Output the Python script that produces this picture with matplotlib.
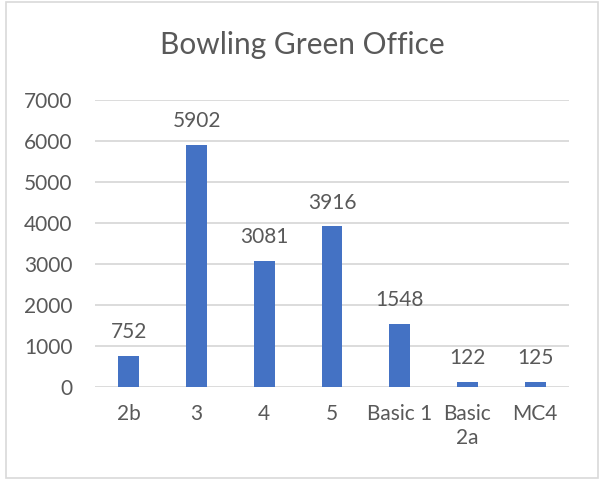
import matplotlib.pyplot as plt
from matplotlib.patches import Rectangle

categories = ["2b", "3", "4", "5", "Basic 1", "Basic\n2a", "MC4"]
counts = [752, 5902, 3081, 3916, 1548, 122, 125]
yticks = [0, 1000, 2000, 3000, 4000, 5000, 6000, 7000]

textColor = '#595959'
barColor = '#4472C4'
gridColor = '#D9D9D9'
fontSize = 15

plt.rcParams['font.family'] = ['Lato', 'DejaVu Sans']

fig = plt.figure(figsize=(6.04, 4.79), dpi=100)
ax = fig.add_axes([95 / 604, 1 - 387 / 479, (569 - 95) / 604, (387 - 100) / 479])

x = list(range(len(categories)))
ax.bar(x, counts, width=0.31, color=barColor, zorder=3)
for a, b in zip(x, counts):
    ax.annotate(str(b), (a, b), xytext=(0, 10), textcoords='offset points',
                ha='center', va='bottom', fontsize=fontSize, color=textColor)

ax.set_xlim(-0.5, len(categories) - 0.5)
ax.set_ylim(0, 7000)
ax.set_yticks(yticks)
ax.set_xticks(x)
ax.set_xticklabels(categories, fontsize=fontSize, color=textColor, linespacing=1.25, va='top')
ax.tick_params(axis='y', length=0, pad=16, labelsize=fontSize, labelcolor=textColor)
ax.tick_params(axis='x', length=0, pad=12)
ax.yaxis.grid(True, color=gridColor, linewidth=1.3, zorder=0)
for s in ax.spines.values():
    s.set_visible(False)

fig.text(0.5, 1 - 45 / 479, "Bowling Green Office", ha='center', va='center',
         fontsize=21.5, color=textColor)

# light chart border
fig.patches.append(Rectangle((6 / 604, 1 / 479), 592 / 604, 476 / 479,
                             transform=fig.transFigure, fill=False,
                             edgecolor=gridColor, linewidth=1.2))

fig.savefig("out.png", dpi=100)
